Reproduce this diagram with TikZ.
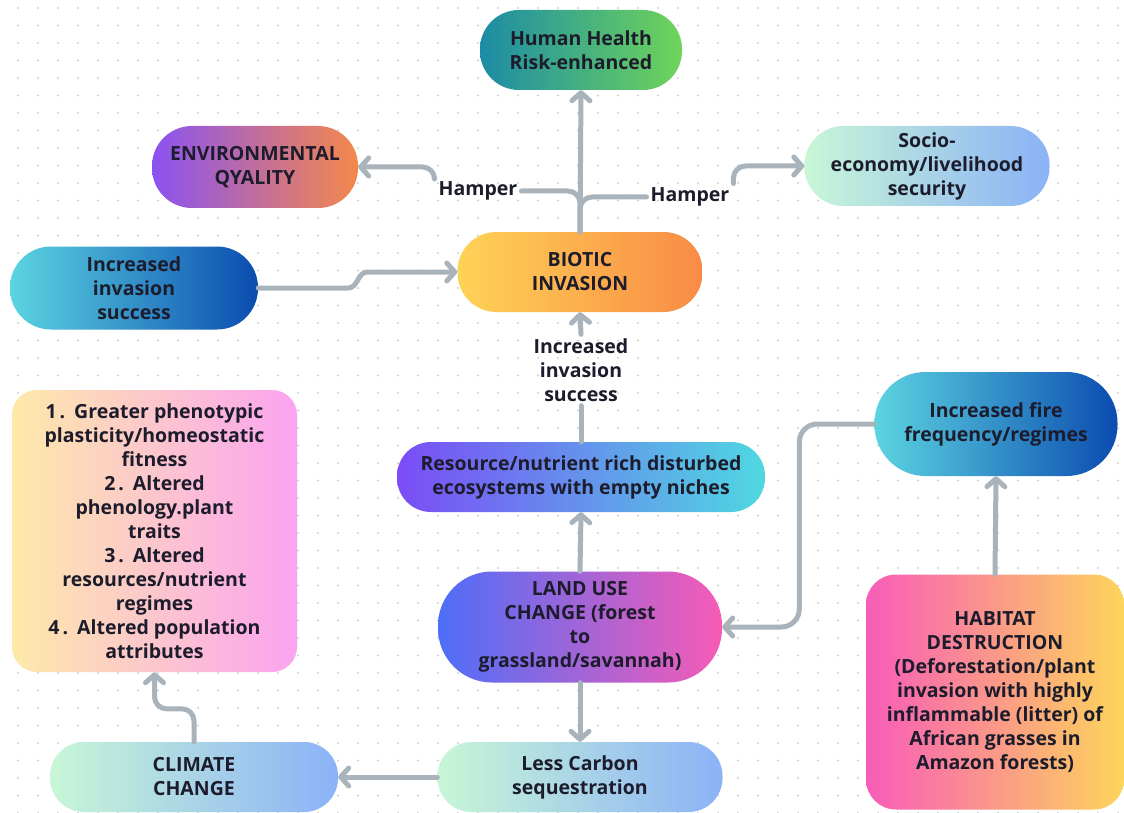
\documentclass[tikz,border=0pt]{standalone}
\usepackage{fontspec}
\setmainfont{Open Sans}
\usetikzlibrary{arrows.meta,calc}

\definecolor{ink}{HTML}{1C1C2C}
\definecolor{wire}{HTML}{A9B3BC}
\definecolor{dotc}{HTML}{D0D0D0}
% gradient end colours
\definecolor{tealL}{HTML}{1C8CA6}
\definecolor{greenR}{HTML}{6FD45A}
\definecolor{violetL}{HTML}{8A52F2}
\definecolor{orangeR}{HTML}{F5884A}
\definecolor{mintL}{HTML}{C8F6D6}
\definecolor{skyR}{HTML}{8BB2F7}
\definecolor{yellowL}{HTML}{FDD356}
\definecolor{amberR}{HTML}{F98B45}
\definecolor{cyanL}{HTML}{5CD4E1}
\definecolor{navyR}{HTML}{0B4CB0}
\definecolor{creamL}{HTML}{FDE9A9}
\definecolor{pinkR}{HTML}{FBA3F0}
\definecolor{purpleL}{HTML}{7B4CF7}
\definecolor{aquaR}{HTML}{4FD8E1}
\definecolor{blueL}{HTML}{4D6EF8}
\definecolor{roseR}{HTML}{F75BB6}
\definecolor{roseL}{HTML}{F85CB8}
\definecolor{goldR}{HTML}{FDD55A}

\begin{document}
\begin{tikzpicture}[x=1pt,y=-1pt,
  box/.style={rectangle, align=center, text=ink, inner sep=0pt,
    font=\bfseries\fontsize{19.5}{24}\selectfont},
  lbl/.style={align=center, text=ink, inner sep=4pt,
    font=\bfseries\fontsize{19.5}{24}\selectfont},
  ln/.style={draw=wire, line width=5pt, line cap=round, line join=round},
  arr/.style={ln, -{Straight Barb[length=8pt,width=18pt,round]}}]

\useasboundingbox (0,0) rectangle (1124,813);
\fill[white] (0,0) rectangle (1124,813);

% dotted grid
\fill[dotc] \foreach \i in {0,...,55}{\foreach \j in {0,...,46}{(18+20*\i,8+17.5*\j) circle (1.1)}};

% nodes
\node[box, minimum width=202, minimum height=80, rounded corners=39,
  left color=tealL, right color=greenR] (hh) at (581,50) {Human Health\\Risk-enhanced};
\node[box, minimum width=206, minimum height=82, rounded corners=40,
  left color=violetL, right color=orangeR] (env) at (255,167) {ENVIRONMENTAL\\QYALITY};
\node[box, minimum width=245, minimum height=80, rounded corners=39,
  left color=mintL, right color=skyR] (soc) at (927,166) {Socio-\\economy/livelihood\\security};
\node[box, minimum width=245, minimum height=80, rounded corners=39,
  left color=yellowL, right color=amberR] (bi) at (580,272) {BIOTIC\\INVASION};
\node[box, minimum width=248, minimum height=83, rounded corners=41,
  left color=cyanL, right color=navyR] (incl) at (134,288) {Increased\\invasion\\success};
\node[box, minimum width=285, minimum height=282, rounded corners=25,
  left color=creamL, right color=pinkR] (list) at (154.5,531)
  {1\hspace{3pt}.\hspace{9pt}Greater phenotypic\\plasticity/homeostatic\\fitness\\
   2\hspace{3pt}.\hspace{9pt}Altered\\phenology.plant\\traits\\
   3\hspace{3pt}.\hspace{9pt}Altered\\resources/nutrient\\regimes\\
   4\hspace{3pt}.\hspace{9pt}Altered population\\attributes};
\node[box, minimum width=368, minimum height=70, rounded corners=34,
  left color=purpleL, right color=aquaR] (res) at (581,477)
  {Resource/nutrient rich disturbed\\ecosystems with empty niches};
\node[box, minimum width=243, minimum height=104, rounded corners=51,
  left color=cyanL, right color=navyR] (fire) at (996,424) {Increased fire\\frequency/regimes};
\node[box, minimum width=284, minimum height=111, rounded corners=54,
  left color=blueL, right color=roseR] (land) at (580,627)
  {LAND USE\\CHANGE (forest\\to\\grassland/savannah)};
\node[box, minimum width=258, minimum height=235, rounded corners=30,
  left color=roseL, right color=goldR] (hab) at (995,692)
  {HABITAT\\DESTRUCTION\\(Deforestation/plant\\invasion with highly\\inflammable (litter) of\\African grasses in\\Amazon forests)};
\node[box, minimum width=288, minimum height=70, rounded corners=34,
  left color=mintL, right color=skyR] (cc) at (194,777) {CLIMATE\\CHANGE};
\node[box, minimum width=285, minimum height=70, rounded corners=34,
  left color=mintL, right color=skyR] (lc) at (580,777) {Less Carbon\\sequestration};

% connector labels
\node[lbl] (hamL) at (478,191) {Hamper};
\node[lbl] (hamR) at (690,197) {Hamper};
\node[lbl] (mid) at (581,370) {Increased\\invasion\\success};

% connectors
\draw[arr] (bi.north) -- (hh.south);
\draw[ln, rounded corners=12] (hamL.east) -| (bi.north);
\draw[ln, rounded corners=12] (hamR.west) -| (bi.north);
\draw[arr, rounded corners=12] (hamL.north west) |- (env.east);
\draw[arr, rounded corners=12] (hamR.north east) |- (soc.west);
\draw[arr] (incl.east) -- ++(90,0) to[out=0,in=180] ($(bi.west)+(-90,0)$) -- (bi.west);
\draw[ln] (res.north) -- (mid.south);
\draw[arr] (mid.north) -- (bi.south);
\draw[arr] (land.north) -- (res.south);
\draw[arr] (land.south) -- (lc.north);
\draw[arr] (lc.west) -- (cc.east);
\draw[arr, rounded corners=12] (cc.north) -- ++(0,-33) -| (list.south);
\draw[arr, rounded corners=18] (fire.west) -- ++(-75,0) |- (land.east);
\draw[arr] (hab.north) -- (fire.south);
\end{tikzpicture}
\end{document}
